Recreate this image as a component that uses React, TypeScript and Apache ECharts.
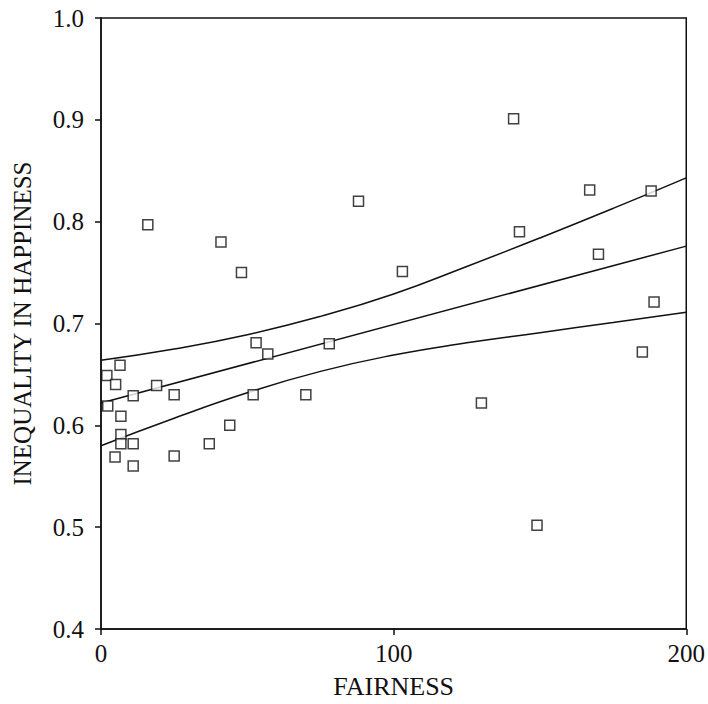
import React, { useEffect, useRef } from "react";
import * as echarts from "echarts";

// Scatter data: fairness (x) and inequality in happiness (y)
const fairness = [16, 41, 48, 88, 103, 141, 143, 167, 188, 170, 189, 185, 130, 149, 78, 70, 53, 57, 52, 44, 37, 25, 25, 19, 11, 11, 11, 6.5, 2, 5, 2.3, 6.8, 6.8, 6.8, 4.8];
const inequality = [0.797, 0.78, 0.75, 0.82, 0.751, 0.901, 0.79, 0.831, 0.83, 0.768, 0.721, 0.672, 0.622, 0.502, 0.68, 0.63, 0.681, 0.67, 0.63, 0.6, 0.582, 0.63, 0.57, 0.639, 0.629, 0.582, 0.56, 0.659, 0.649, 0.64, 0.619, 0.609, 0.591, 0.582, 0.569];

// Fitted line and confidence bands
const bandX = [0, 25, 50, 75, 100, 125, 150, 175, 200];
const upperBand = [0.664, 0.675, 0.689, 0.707, 0.729, 0.756, 0.784, 0.813, 0.843];
const lowerBand = [0.58, 0.607, 0.632, 0.653, 0.669, 0.681, 0.691, 0.701, 0.711];
const fitX = [0, 200];
const fitY = [0.622, 0.776];

const xTicks = [0, 100, 200];
const yTicks = [0.4, 0.5, 0.6, 0.7, 0.8, 0.9, 1.0];

const FONT = "'Liberation Serif', 'DejaVu Serif', serif";

export default function App() {
  const ref = useRef<HTMLDivElement>(null);
  useEffect(() => {
    if (!ref.current) return;
    const chart = echarts.init(ref.current, null, { renderer: "svg" });
    const lineStyle = { color: "#111", width: 1.5 };
    chart.setOption({
      animation: false,
      backgroundColor: "#fff",
      grid: { left: 101, right: 21, top: 18, bottom: 71, show: true, borderColor: "#111", borderWidth: 1.5, backgroundColor: "transparent" },
      xAxis: {
        type: "value",
        min: xTicks[0],
        max: xTicks[xTicks.length - 1],
        interval: 100,
        name: "FAIRNESS",
        nameLocation: "middle",
        nameGap: 44,
        nameTextStyle: { fontFamily: FONT, fontSize: 26, color: "#111" },
        axisLine: { show: true, lineStyle: { color: "#111", width: 1.5 } },
        axisTick: { show: true, inside: false, length: 6, lineStyle: { color: "#111", width: 1.5 } },
        axisLabel: { fontFamily: FONT, fontSize: 25, color: "#111", margin: 12 },
        splitLine: { show: false },
      },
      yAxis: {
        type: "value",
        min: yTicks[0],
        max: yTicks[yTicks.length - 1],
        interval: 0.1,
        name: "INEQUALITY IN HAPPINESS",
        nameLocation: "middle",
        nameRotate: 90,
        nameGap: 66,
        nameTextStyle: { fontFamily: FONT, fontSize: 25, color: "#111" },
        axisLine: { show: true, lineStyle: { color: "#111", width: 1.5 } },
        axisTick: { show: true, inside: false, length: 6, lineStyle: { color: "#111", width: 1.5 } },
        axisLabel: { fontFamily: FONT, fontSize: 25, color: "#111", margin: 17, formatter: (v: number) => v.toFixed(1) },
        splitLine: { show: false },
      },
      series: [
        {
          type: "line",
          data: bandX.map((x, i) => [x, upperBand[i]]),
          smooth: true,
          showSymbol: false,
          lineStyle,
          silent: true,
        },
        {
          type: "line",
          data: bandX.map((x, i) => [x, lowerBand[i]]),
          smooth: true,
          showSymbol: false,
          lineStyle,
          silent: true,
        },
        {
          type: "line",
          data: fitX.map((x, i) => [x, fitY[i]]),
          showSymbol: false,
          lineStyle,
          silent: true,
        },
        {
          type: "scatter",
          data: fairness.map((x, i) => [x, inequality[i]]),
          symbol: "rect",
          symbolSize: 10,
          itemStyle: { color: "#fff", borderColor: "#111", borderWidth: 1.5 },
          z: 5,
        },
      ],
    });
    return () => chart.dispose();
  }, []);
  return <div ref={ref} style={{ position: "fixed", left: 0, top: 0, width: 708, height: 704 }} />;
}
